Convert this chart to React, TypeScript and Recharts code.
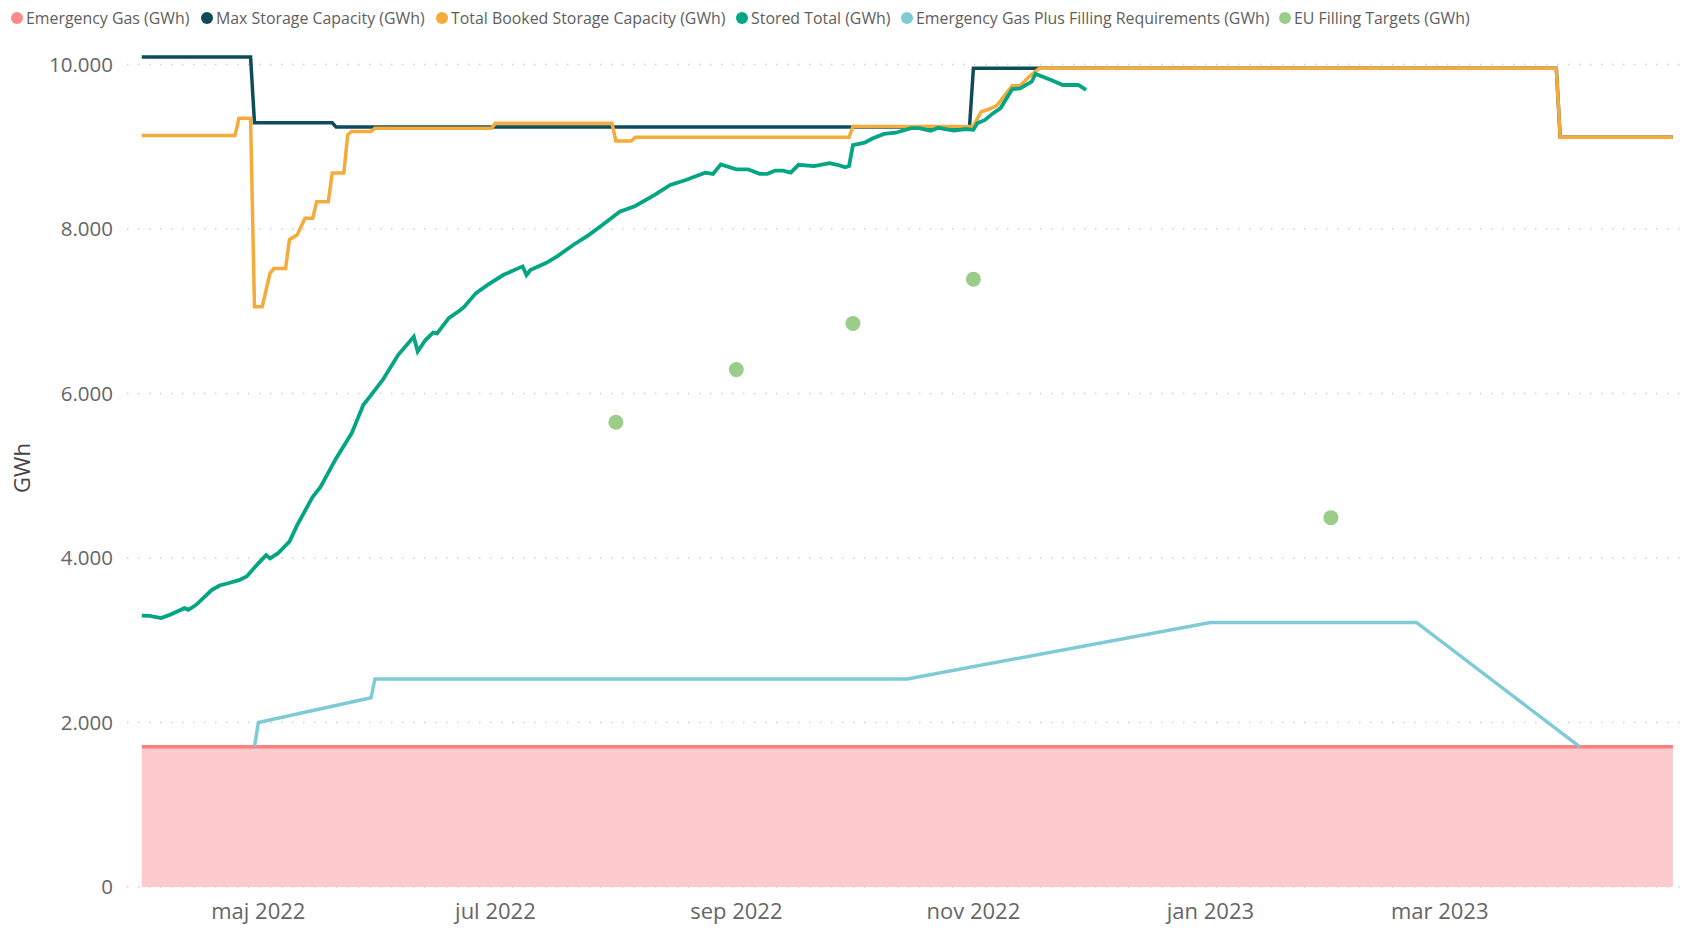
import React from 'react';
import { ComposedChart, Line, Area, Scatter, XAxis, YAxis, CartesianGrid, Label } from 'recharts';

const FONT = '"Segoe UI", "Open Sans", "Noto Sans", sans-serif';

// series values (date, GWh)
const emergencyGas: [string, number][] = [
  ['2022-04-01', 1706],
  ['2023-04-30', 1706],
];

const maxStorage: [string, number][] = [
  ['2022-04-01', 10090], ['2022-04-29', 10090], ['2022-04-30', 9290], ['2022-05-20', 9290],
  ['2022-05-21', 9240], ['2022-10-31', 9240], ['2022-11-01', 9955], ['2023-03-31', 9955],
  ['2023-04-01', 9115], ['2023-04-30', 9115],
];

const bookedStorage: [string, number][] = [
  ['2022-04-01', 9135], ['2022-04-25', 9135], ['2022-04-26', 9345], ['2022-04-29', 9345],
  ['2022-04-30', 7055], ['2022-05-02', 7055], ['2022-05-04', 7460], ['2022-05-05', 7520],
  ['2022-05-08', 7520], ['2022-05-09', 7870], ['2022-05-11', 7930], ['2022-05-13', 8130],
  ['2022-05-15', 8130], ['2022-05-16', 8330], ['2022-05-19', 8330], ['2022-05-20', 8680],
  ['2022-05-23', 8680], ['2022-05-24', 9145], ['2022-05-25', 9185], ['2022-05-30', 9185],
  ['2022-05-31', 9225], ['2022-06-30', 9225], ['2022-07-01', 9285], ['2022-07-31', 9285],
  ['2022-08-01', 9070], ['2022-08-05', 9070], ['2022-08-06', 9115], ['2022-09-30', 9115],
  ['2022-10-01', 9245], ['2022-11-01', 9250], ['2022-11-03', 9425], ['2022-11-05', 9455],
  ['2022-11-07', 9500], ['2022-11-11', 9740], ['2022-11-13', 9740], ['2022-11-15', 9835],
  ['2022-11-17', 9915], ['2022-11-18', 9955], ['2023-03-31', 9955], ['2023-04-01', 9115],
  ['2023-04-30', 9115],
];

const storedTotal: [string, number][] = [
  ['2022-04-01', 3300], ['2022-04-03', 3295], ['2022-04-06', 3270], ['2022-04-08', 3305],
  ['2022-04-12', 3390], ['2022-04-13', 3370], ['2022-04-15', 3430], ['2022-04-19', 3610],
  ['2022-04-21', 3665], ['2022-04-23', 3690], ['2022-04-26', 3730], ['2022-04-28', 3775],
  ['2022-05-01', 3935], ['2022-05-03', 4035], ['2022-05-04', 3995], ['2022-05-06', 4055],
  ['2022-05-09', 4200], ['2022-05-11', 4400], ['2022-05-15', 4745], ['2022-05-17', 4865],
  ['2022-05-21', 5210], ['2022-05-25', 5515], ['2022-05-28', 5860], ['2022-05-30', 5980],
  ['2022-06-02', 6165], ['2022-06-06', 6470], ['2022-06-10', 6690], ['2022-06-11', 6510],
  ['2022-06-13', 6650], ['2022-06-15', 6740], ['2022-06-16', 6730], ['2022-06-19', 6915],
  ['2022-06-22', 7015], ['2022-06-23', 7055], ['2022-06-26', 7220], ['2022-06-29', 7320],
  ['2022-07-03', 7440], ['2022-07-08', 7545], ['2022-07-09', 7440], ['2022-07-10', 7500],
  ['2022-07-14', 7585], ['2022-07-17', 7670], ['2022-07-21', 7805], ['2022-07-25', 7925],
  ['2022-07-28', 8030], ['2022-08-02', 8210], ['2022-08-06', 8280], ['2022-08-11', 8415],
  ['2022-08-15', 8535], ['2022-08-19', 8595], ['2022-08-24', 8685], ['2022-08-26', 8670],
  ['2022-08-28', 8785], ['2022-09-01', 8725], ['2022-09-04', 8725], ['2022-09-07', 8670],
  ['2022-09-09', 8670], ['2022-09-11', 8710], ['2022-09-13', 8710], ['2022-09-15', 8685],
  ['2022-09-17', 8780], ['2022-09-21', 8765], ['2022-09-25', 8800], ['2022-09-27', 8780],
  ['2022-09-29', 8750], ['2022-09-30', 8765], ['2022-10-01', 9020], ['2022-10-04', 9050],
  ['2022-10-06', 9100], ['2022-10-09', 9155], ['2022-10-12', 9170], ['2022-10-16', 9225],
  ['2022-10-18', 9225], ['2022-10-21', 9195], ['2022-10-23', 9230], ['2022-10-27', 9195],
  ['2022-10-30', 9215], ['2022-11-01', 9205], ['2022-11-02', 9285], ['2022-11-04', 9325],
  ['2022-11-06', 9405], ['2022-11-08', 9470], ['2022-11-11', 9700], ['2022-11-13', 9710],
  ['2022-11-16', 9790], ['2022-11-17', 9885], ['2022-11-21', 9810], ['2022-11-24', 9750],
  ['2022-11-28', 9750], ['2022-11-30', 9690],
];

const emergencyPlusFilling: [string, number][] = [
  ['2022-04-30', 1706], ['2022-05-01', 2000], ['2022-05-30', 2300], ['2022-05-31', 2530],
  ['2022-10-15', 2530], ['2023-01-01', 3216], ['2023-02-23', 3216], ['2023-04-06', 1706],
];

const euTargets: [string, number][] = [
  ['2022-08-01', 5650], ['2022-09-01', 6290], ['2022-10-01', 6850], ['2022-11-01', 7390],
  ['2023-02-01', 4490],
];

const tickDates = ['2022-05-01', '2022-07-01', '2022-09-01', '2022-11-01', '2023-01-01', '2023-03-01'];
const tickLabels = ['maj 2022', 'jul 2022', 'sep 2022', 'nov 2022', 'jan 2023', 'mar 2023'];
const yTicks = [0, 2000, 4000, 6000, 8000, 10000];

const legendItems = [
  { name: 'Emergency Gas (GWh)', color: '#FD8A8A', left: 11 },
  { name: 'Max Storage Capacity (GWh)', color: '#0F4C5A', left: 201 },
  { name: 'Total Booked Storage Capacity (GWh)', color: '#F5AB3C', left: 436 },
  { name: 'Stored Total (GWh)', color: '#03A583', left: 736 },
  { name: 'Emergency Gas Plus Filling Requirements (GWh)', color: '#7ECBD6', left: 901 },
  { name: 'EU Filling Targets (GWh)', color: '#9ACD89', left: 1279 },
];

const START = Date.UTC(2022, 3, 1);
const toDay = (s: string) => {
  const [y, m, d] = s.split('-').map(Number);
  return (Date.UTC(y, m - 1, d) - START) / 86400000;
};
const toPoints = (rows: [string, number][]) => rows.map(([d, v]) => ({ x: toDay(d), v }));

const tickDays = tickDates.map(toDay);
const fmtX = (v: number) => tickLabels[tickDays.indexOf(v)] ?? '';
const fmtY = (v: number) => String(v).replace(/\B(?=(\d{3})+(?!\d))/g, '.');

const Dot = (props: any) => <circle cx={props.cx} cy={props.cy} r={7.5} fill="#9ACD89" />;

export default function App() {
  const W = 1683;
  const H = 930;
  return (
    <div style={{ position: 'absolute', left: 0, top: 0, width: W, height: H, background: '#fff', fontFamily: FONT }}>
      {legendItems.map(it => (
        <div key={it.name} style={{ position: 'absolute', left: it.left, top: 7, display: 'flex', alignItems: 'center', fontSize: 15.9, color: '#605E5C', whiteSpace: 'nowrap' }}>
          <span style={{ width: 12, height: 12, borderRadius: 6, background: it.color, marginRight: 3, display: 'inline-block' }} />
          {it.name}
        </div>
      ))}
      <ComposedChart width={W} height={H} margin={{ top: 48, right: 0, bottom: 0, left: 0 }}>
        <CartesianGrid vertical={false} horizontalValues={yTicks} stroke="#cfcfcf" strokeDasharray="1.5 9.5" strokeWidth={1.5} />
        <XAxis
          type="number"
          dataKey="x"
          domain={[-3.8, 396.6]}
          ticks={tickDays}
          tickFormatter={fmtX}
          allowDataOverflow
          axisLine={false}
          tickLine={false}
          tickSize={0}
          tickMargin={16}
          height={43}
          tick={{ fontSize: 22, fill: '#666', fontFamily: FONT }}
        />
        <YAxis
          type="number"
          dataKey="v"
          domain={[0, 10200]}
          ticks={yTicks}
          tickFormatter={fmtY}
          allowDataOverflow
          width={127}
          axisLine={false}
          tickLine={false}
          tickSize={0}
          tickMargin={14}
          tick={{ fontSize: 20.5, fill: '#666', fontFamily: FONT }}
        >
          <Label
            content={() => (
              <text x={21} y={468} transform="rotate(-90 21 468)" textAnchor="middle" dominantBaseline="central" fontSize={22} fill="#444" fontFamily={FONT}>
                GWh
              </text>
            )}
          />
        </YAxis>
        <Area
          data={toPoints(emergencyGas)}
          dataKey="v"
          type="linear"
          stroke="#FD8080"
          strokeWidth={3.5}
          fill="#FDCBCB"
          fillOpacity={1}
          isAnimationActive={false}
        />
        <Line data={toPoints(emergencyPlusFilling)} dataKey="v" type="linear" stroke="#7ECBD6" strokeWidth={3.5} dot={false} isAnimationActive={false} />
        <Line data={toPoints(maxStorage)} dataKey="v" type="linear" stroke="#0F4C5A" strokeWidth={3.5} dot={false} isAnimationActive={false} />
        <Line data={toPoints(bookedStorage)} dataKey="v" type="linear" stroke="#F5AB3C" strokeWidth={3.5} dot={false} isAnimationActive={false} />
        <Line data={toPoints(storedTotal)} dataKey="v" type="linear" stroke="#03A583" strokeWidth={3.8} dot={false} isAnimationActive={false} />
        <Scatter data={toPoints(euTargets)} dataKey="v" shape={Dot} isAnimationActive={false} />
      </ComposedChart>
    </div>
  );
}
